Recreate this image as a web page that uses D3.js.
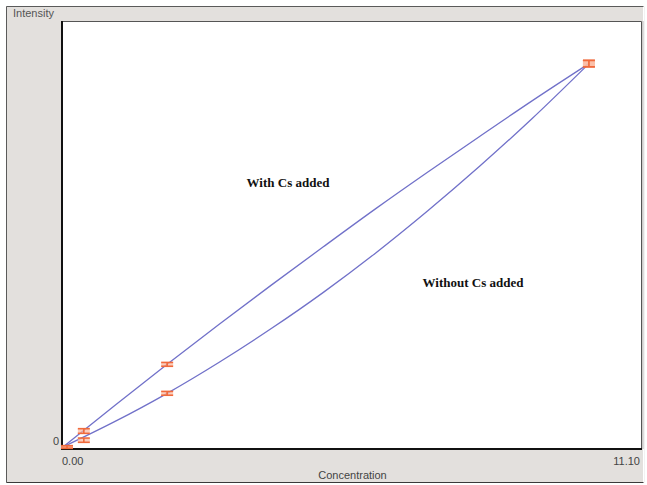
<!DOCTYPE html>
<html>
<head>
<meta charset="utf-8">
<script src="https://cdn.jsdelivr.net/npm/d3@7"></script>
<style>
  html, body { margin: 0; padding: 0; background: #ffffff; }
  svg { display: block; }
</style>
</head>
<body>
<svg id="chart" width="647" height="485"></svg>
<script>
// Calibration standards (concentration) and measured intensity for both series
const concentrations = [0, 0.4, 2.0, 10.1];
const intensityWithCs = [0, 3.75, 19.4, 90.0];
const intensityWithoutCs = [0, 1.6, 12.6, 90.0];
const errorWithCs = [0.3, 0.55, 0.45, 0.75];
const errorWithoutCs = [0.3, 0.5, 0.45, 0.75];

// Calibration curves as drawn on the chart (concentration -> intensity)
const curveConc = [0, 1, 2, 3, 4, 5, 6, 7, 8, 9, 10.1];
const curveWithCs = [0, 9.8, 19.4, 28.8, 38.0, 47.0, 55.9, 64.5, 72.9, 81.2, 90.0];
const curveWithoutCs = [0, 6.0, 12.6, 19.9, 27.8, 36.3, 45.5, 55.4, 65.9, 77.0, 90.0];

const xTickLabels = ["0.00", "11.10"];
const yTickLabels = ["0"];
const seriesLabels = ["With Cs added", "Without Cs added"];
const axisTitles = ["Concentration", "Intensity"];

const svg = d3.select("#chart");

// Outer panel
svg.append("rect").attr("x", 6).attr("y", 6).attr("width", 637).attr("height", 476)
  .attr("fill", "#e3e0dd");
svg.append("path").attr("d", "M6.5,482.5 V6.5 H643.5").attr("fill", "none")
  .attr("stroke", "#5a5a5a").attr("stroke-width", 1);
svg.append("path").attr("d", "M6.5,482.5 H643.5").attr("fill", "none")
  .attr("stroke", "#3a3a3a").attr("stroke-width", 1.2);
svg.append("path").attr("d", "M644.5,6.5 V482.5").attr("fill", "none")
  .attr("stroke", "#f2f2f2").attr("stroke-width", 1);

// Plot area
const plot = { left: 62, top: 21, right: 641, bottom: 448 };
svg.append("rect").attr("x", plot.left).attr("y", plot.top)
  .attr("width", plot.right - plot.left).attr("height", plot.bottom - plot.top)
  .attr("fill", "#ffffff");
svg.append("path").attr("d", `M${plot.left},${plot.top + 0.5} H${plot.right + 0.5} V${plot.bottom}`)
  .attr("fill", "none").attr("stroke", "#555555").attr("stroke-width", 1);
svg.append("path").attr("d", `M${plot.right + 2},${plot.top} V${plot.bottom + 1}`)
  .attr("fill", "none").attr("stroke", "#b8b8b8").attr("stroke-width", 1);
svg.append("path").attr("d", `M${plot.left},${plot.top} V${plot.bottom + 1} H${plot.right + 1}`)
  .attr("fill", "none").attr("stroke", "#111111").attr("stroke-width", 2);

const x = d3.scaleLinear().domain([0, 11.1]).range([plot.left + 1, plot.right]);
const y = d3.scaleLinear().domain([0, 100]).range([447, plot.top]);

const tickFont = "Arial, 'Liberation Sans', sans-serif";

// Axis labels (start/end ticks only)
svg.append("text").attr("x", x(0) - 1).attr("y", 465).attr("font-family", tickFont)
  .attr("font-size", 11).attr("fill", "#444").text(xTickLabels[0]);
svg.append("text").attr("x", plot.right - 1).attr("y", 465).attr("text-anchor", "end")
  .attr("font-family", tickFont).attr("font-size", 11).attr("fill", "#444").text(xTickLabels[1]);
svg.append("text").attr("x", plot.left - 3).attr("y", y(0) - 2).attr("text-anchor", "end")
  .attr("font-family", tickFont).attr("font-size", 11).attr("fill", "#444").text(yTickLabels[0]);
svg.append("text").attr("x", (plot.left + plot.right) / 2 + 1).attr("y", 479).attr("text-anchor", "middle")
  .attr("font-family", tickFont).attr("font-size", 11).attr("fill", "#444").text(axisTitles[0]);
svg.append("text").attr("x", 13).attr("y", 17)
  .attr("font-family", tickFont).attr("font-size", 11).attr("fill", "#555").text(axisTitles[1]);

// Calibration curves
const line = d3.line()
  .x(d => x(d[0]))
  .y(d => y(d[1]))
  .curve(d3.curveMonotoneX);

const g = svg.append("g");
[curveWithCs, curveWithoutCs].forEach(vals => {
  const pts = curveConc.map((c, i) => [c, vals[i]]);
  g.append("path").datum(pts).attr("d", line)
    .attr("fill", "none").attr("stroke", "#7171c9").attr("stroke-width", 1.3);
});

// Error bars on the standards
const series = [
  { values: intensityWithCs, errors: errorWithCs },
  { values: intensityWithoutCs, errors: errorWithoutCs }
];
series.forEach(s => {
  concentrations.forEach((c, i) => {
    const cx = x(c) + (i === 0 ? 4 : 0);
    const yTop = y(s.values[i] + s.errors[i]);
    const yBot = y(s.values[i] - s.errors[i]);
    const half = 6;
    g.append("rect").attr("x", cx - half).attr("y", yTop).attr("width", half * 2)
      .attr("height", Math.max(1, yBot - yTop)).attr("fill", "#fbb9a0").attr("opacity", 0.7);
    g.append("line").attr("x1", cx - half).attr("x2", cx + half).attr("y1", yTop).attr("y2", yTop)
      .attr("stroke", "#f06a3c").attr("stroke-width", 1.6);
    g.append("line").attr("x1", cx - half).attr("x2", cx + half).attr("y1", yBot).attr("y2", yBot)
      .attr("stroke", "#f06a3c").attr("stroke-width", 1.6);
    g.append("line").attr("x1", cx).attr("x2", cx).attr("y1", yTop).attr("y2", yBot)
      .attr("stroke", "#f06a3c").attr("stroke-width", 1.6);
  });
});

// Series annotations
const serif = "'Liberation Serif', 'Times New Roman', serif";
svg.append("text").attr("x", 288).attr("y", 187).attr("text-anchor", "middle")
  .attr("font-family", serif).attr("font-weight", "bold").attr("font-size", 13)
  .attr("fill", "#111").text(seriesLabels[0]);
svg.append("text").attr("x", 473).attr("y", 287).attr("text-anchor", "middle")
  .attr("font-family", serif).attr("font-weight", "bold").attr("font-size", 13)
  .attr("fill", "#111").text(seriesLabels[1]);
</script>
</body>
</html>
